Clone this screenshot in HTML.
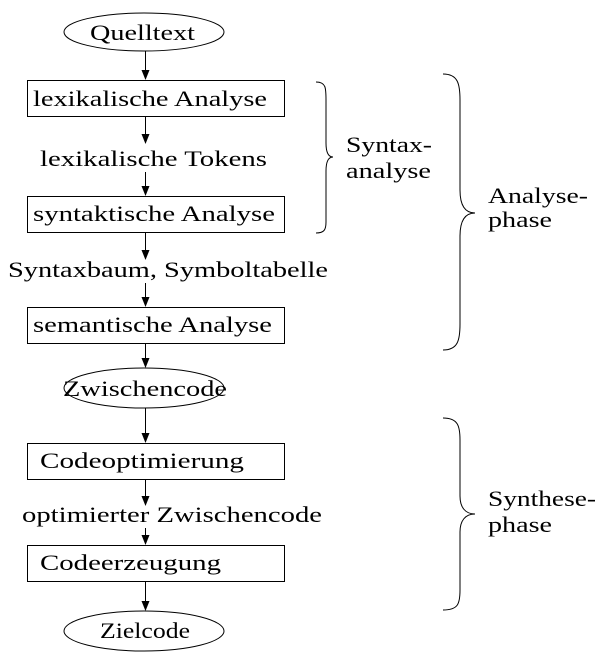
<!DOCTYPE html>
<html><head><meta charset="utf-8"><style>
html,body{margin:0;padding:0;background:#fff}
text{font-family:"Liberation Serif",serif;font-size:22px;fill:#000}
</style></head><body>
<svg width="611" height="664" viewBox="0 0 611 664" xmlns="http://www.w3.org/2000/svg">
<g fill="none" stroke="#000" stroke-width="1">
<ellipse cx="144" cy="32" rx="80" ry="19"/>
<rect x="27.5" y="80.5" width="257" height="36"/>
<rect x="27.5" y="196.5" width="257" height="36"/>
<rect x="27.5" y="307.5" width="257" height="36"/>
<ellipse cx="144" cy="388" rx="80" ry="20"/>
<rect x="27.5" y="443.5" width="257" height="36"/>
<rect x="27.5" y="545.5" width="257" height="36"/>
<ellipse cx="144" cy="631" rx="80" ry="20"/>
<path d="M145.5 51V72 M145.5 117V136 M145.5 172V188 M145.5 233V252 M145.5 283V299 M145.5 344V360 M145.5 408V435 M145.5 480V498 M145.5 528V537 M145.5 582V603"/>
<path d="M316 82 C326 82 326 88 326 100 V143 C326 152 328 157 333 157 C328 157 326 162 326 171 V222 C326 230 324 233 316 233"/>
<path d="M443 74 C458 74 460 84 460 100 V190 C460 205 465 213 475 213 C465 213 460 221 460 236 V324 C460 340 458 350 443 350"/>
<path d="M443 418 C458 418 460 426 460 440 V496 C460 507 465 514 475 514 C465 514 460 521 460 532 V590 C460 604 458 610 443 610"/>
</g>
<g fill="#000">
<path d="M141.5 70 L149.5 70 L145.5 80 Z"/><path d="M141.5 186 L149.5 186 L145.5 196 Z"/>
<path d="M141.5 297 L149.5 297 L145.5 307 Z"/><path d="M141.5 358 L149.5 358 L145.5 368 Z"/>
<path d="M141.5 433 L149.5 433 L145.5 443 Z"/><path d="M141.5 535 L149.5 535 L145.5 545 Z"/>
<path d="M141.5 601 L149.5 601 L145.5 611 Z"/>
<path d="M141.5 134 L149.5 134 L145.5 144 Z"/>
<path d="M141.5 250 L149.5 250 L145.5 260 Z"/>
<path d="M141.5 496 L149.5 496 L145.5 506 Z"/>
</g>
<g lengthAdjust="spacingAndGlyphs">
<text x="90" y="40" textLength="105" lengthAdjust="spacingAndGlyphs">Quelltext</text>
<text x="33" y="106" textLength="234" lengthAdjust="spacingAndGlyphs">lexikalische Analyse</text>
<text x="40" y="166" textLength="227" lengthAdjust="spacingAndGlyphs">lexikalische Tokens</text>
<text x="33" y="221" textLength="242" lengthAdjust="spacingAndGlyphs">syntaktische Analyse</text>
<text x="8" y="277" textLength="320" lengthAdjust="spacingAndGlyphs">Syntaxbaum, Symboltabelle</text>
<text x="33" y="332" textLength="239" lengthAdjust="spacingAndGlyphs">semantische Analyse</text>
<text x="63" y="396" textLength="164" lengthAdjust="spacingAndGlyphs">Zwischencode</text>
<text x="40" y="468" textLength="204" lengthAdjust="spacingAndGlyphs">Codeoptimierung</text>
<text x="22" y="522" textLength="300" lengthAdjust="spacingAndGlyphs">optimierter Zwischencode</text>
<text x="40" y="570" textLength="181" lengthAdjust="spacingAndGlyphs">Codeerzeugung</text>
<text x="100" y="638" textLength="90" lengthAdjust="spacingAndGlyphs">Zielcode</text>
<text x="346" y="152" textLength="86" lengthAdjust="spacingAndGlyphs">Syntax-</text>
<text x="346" y="178" textLength="85" lengthAdjust="spacingAndGlyphs">analyse</text>
<text x="488" y="203" textLength="100" lengthAdjust="spacingAndGlyphs">Analyse-</text>
<text x="488" y="227" textLength="64" lengthAdjust="spacingAndGlyphs">phase</text>
<text x="488" y="506" textLength="108" lengthAdjust="spacingAndGlyphs">Synthese-</text>
<text x="488" y="532" textLength="64" lengthAdjust="spacingAndGlyphs">phase</text>
</g>
</svg>
</body></html>
